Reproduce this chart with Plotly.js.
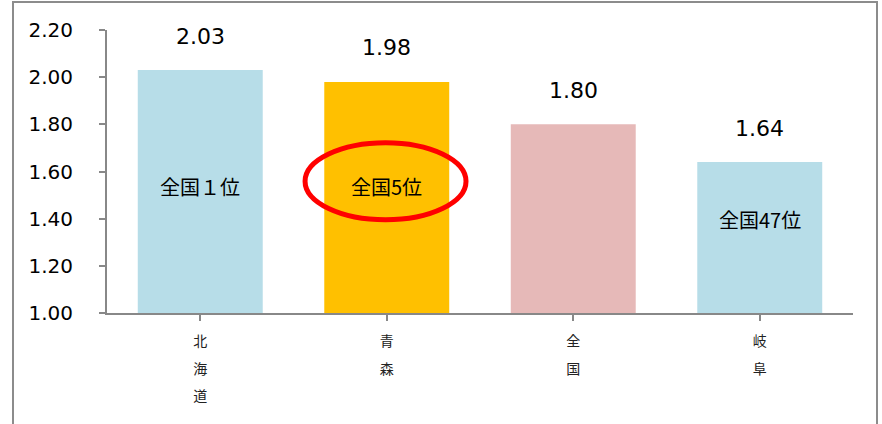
<!DOCTYPE html>
<html><head><meta charset="utf-8">
<script src="https://cdn.plot.ly/plotly-3.0.1.min.js"></script>
<style>
html,body{margin:0;padding:0;background:#fff;overflow:hidden;}
#frame{position:absolute;left:12px;top:1px;width:866px;height:460px;border:2px solid #8c8c8c;box-sizing:border-box;}
#chart{position:absolute;left:0;top:0;width:882px;height:424px;}
</style></head>
<body>
<div id="frame"></div>
<div id="chart"></div>
<script>
const categories = ["北海道", "青森", "全国", "岐阜"];
const values = [2.03, 1.98, 1.80, 1.64];
const barColors = ["#B7DDE8", "#FFC000", "#E6B9B8", "#B7DDE8"];
const rankLabels = ["全国１位", "全国5位", "", "全国47位"];
const yTickVals = [1.00, 1.20, 1.40, 1.60, 1.80, 2.00, 2.20];

const cjk = '"Noto Sans CJK JP", "Noto Sans", sans-serif';
const latin = '"DejaVu Sans", Verdana, sans-serif';

const tickText = categories.map(c => c.split("").map(ch => '<span style="font-size:14px">' + ch + '</span>').join("<br>"));

const rankY = [1.535, 1.535, null, 1.395];

const annotations = [];
values.forEach((v, i) => {
  annotations.push({x: i, y: v, xref: 'x', yref: 'y', text: v.toFixed(2), showarrow: false,
    yanchor: 'middle', yshift: 34, font: {family: latin, size: 22, color: '#000'}});
  if (rankLabels[i]) {
    annotations.push({x: i, y: rankY[i], xref: 'x', yref: 'y', text: rankLabels[i], showarrow: false,
      yanchor: 'middle', font: {family: cjk, size: 20, color: '#000'}});
  }
});

const data = [{
  type: 'bar',
  x: categories.map((c, i) => i),
  y: values,
  base: 0,
  marker: {color: barColors},
  hoverinfo: 'none'
}];

const layout = {
  width: 882, height: 424,
  margin: {l: 107, r: 29, t: 30, b: 111},
  paper_bgcolor: 'rgba(0,0,0,0)', plot_bgcolor: 'rgba(0,0,0,0)',
  showlegend: false,
  bargap: 0.33,
  xaxis: {
    range: [-0.5, 3.5],
    tickmode: 'array', tickvals: [0, 1, 2, 3], ticktext: tickText,
    showline: true, linecolor: '#888', linewidth: 2,
    ticks: 'outside', tickson: 'boundaries', ticklen: 6, tickcolor: '#888', tickwidth: 2,
    showgrid: false, zeroline: false,
    tickfont: {family: cjk, size: 21, color: '#222'},
    ticklabelstandoff: 0
  },
  yaxis: {
    range: [1, 2.2],
    tickmode: 'array', tickvals: yTickVals, ticktext: yTickVals.map(v => v.toFixed(2)),
    showline: true, linecolor: '#888', linewidth: 2,
    ticks: 'outside', ticklen: 6, tickcolor: '#888', tickwidth: 2,
    showgrid: false, zeroline: false,
    tickfont: {family: latin, size: 20, color: '#000'},
    ticklabelstandoff: 22
  },
  annotations: annotations,
  shapes: [{type: 'circle', xref: 'x', yref: 'y', x0: 0.562, x1: 1.425, y0: 1.395, y1: 1.722,
    line: {color: '#FF0000', width: 5}}]
};

Plotly.newPlot('chart', data, layout, {staticPlot: true});
</script>
</body></html>
